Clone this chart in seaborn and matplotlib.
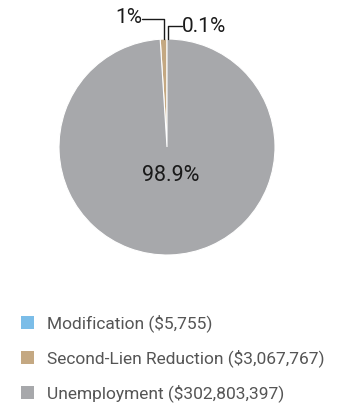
import numpy as np
import matplotlib
matplotlib.use("Agg")
import matplotlib.pyplot as plt
import seaborn as sns
from matplotlib.patches import Patch

categories = ["Modification", "Second-Lien Reduction", "Unemployment"]
amounts = [5755, 3067767, 302803397]
pct_labels = ["0.1%", "1%", "98.9%"]
colors = ["#7bbde8", "#c4a882", "#a7a8ab"]

sns.set_theme(style="white")
plt.rcParams["font.family"] = ["Roboto", "DejaVu Sans"]

fig = plt.figure(figsize=(3.44, 4.07), dpi=100)
ax = fig.add_axes([59 / 344, 152 / 407, 216 / 344, 216 / 407])

wedges, _ = ax.pie(amounts, colors=colors, startangle=90, counterclock=True,
                   radius=1.0, wedgeprops=dict(edgecolor="white", linewidth=0.8))
ax.set_xlim(-1, 1)
ax.set_ylim(-1, 1)
ax.set_aspect("equal")
ax.axis("off")

# big label inside the unemployment slice
ax.text(0.035, -0.265, pct_labels[2], ha="center", va="center", fontsize=15.5, color="#1a1a1a")

# leader lines for the two tiny slices
def edge_x(w):
    mid = np.deg2rad((w.theta1 + w.theta2) / 2)
    return np.cos(mid)

x_tan = edge_x(wedges[1])
ax.plot([x_tan, x_tan, -0.23], [1.0, 1.185, 1.185], color="#1a1a1a", lw=1, clip_on=False)
ax.text(-0.23, 1.2, pct_labels[1], ha="right", va="center", fontsize=15, color="#1a1a1a")

x_blue = edge_x(wedges[0]) + 0.005
ax.plot([x_blue, x_blue, 0.137], [1.0, 1.124, 1.124], color="#1a1a1a", lw=1, clip_on=False)
ax.text(0.14, 1.115, pct_labels[0], ha="left", va="center", fontsize=15, color="#1a1a1a")

handles = [Patch(facecolor=c, edgecolor="none") for c in colors]
labels = [f"{c} (${a:,})" for c, a in zip(categories, amounts)]
fig.legend(handles, labels, loc="upper left", bbox_to_anchor=(0.04, 0.245),
           frameon=False, fontsize=12.5, labelcolor="#555555",
           handlelength=0.75, handleheight=0.75, handletextpad=0.75,
           labelspacing=1.0, borderaxespad=0)

fig.savefig("out.png", dpi=100)
